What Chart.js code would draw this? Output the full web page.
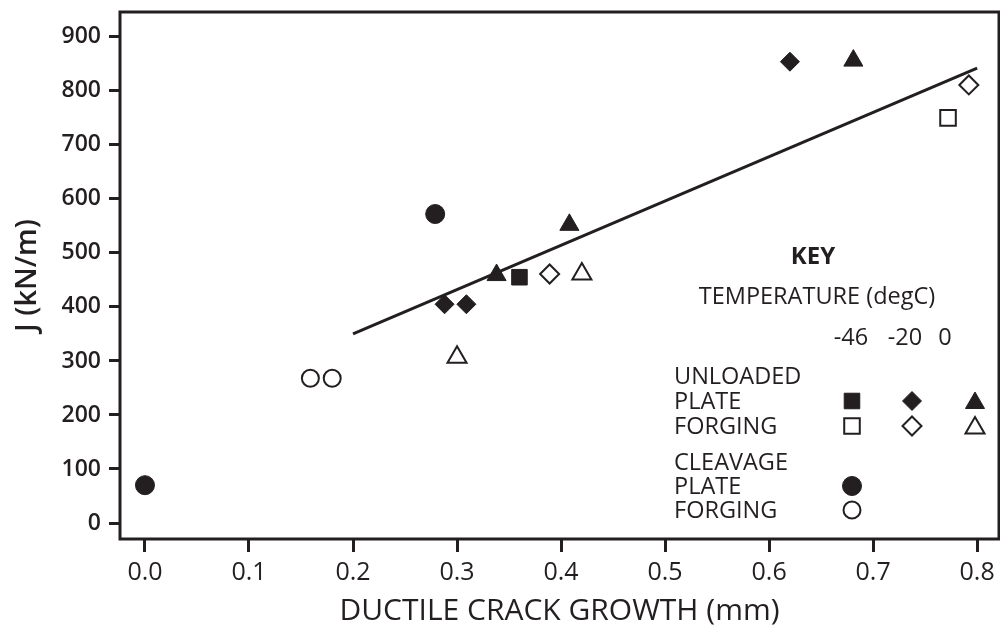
<!DOCTYPE html>
<html>
<head>
<meta charset="utf-8">
<script src="https://cdn.jsdelivr.net/npm/chart.js@4.4.0/dist/chart.umd.min.js"></script>
<style>
  html, body { margin: 0; background: #ffffff; }
  canvas { display: block; }
</style>
</head>
<body>
<canvas id="jChart" width="1000" height="631"></canvas>
<script>
const ink = '#231f20';

// axis ticks
const xTicks = [0, 0.1, 0.2, 0.3, 0.4, 0.5, 0.6, 0.7, 0.8];
const yTicks = [0, 100, 200, 300, 400, 500, 600, 700, 800, 900];

// unloaded, plate (filled) at -46 / -20 / 0 degC
const plateM46 = [{ x: 0.36, y: 455 }];
const plateM20 = [{ x: 0.288, y: 405 }, { x: 0.309, y: 405 }, { x: 0.62, y: 854 }];
const plate0 = [{ x: 0.338, y: 459 }, { x: 0.408, y: 552 }, { x: 0.681, y: 856 }];

// unloaded, forging (open)
const forgingM46 = [{ x: 0.772, y: 750 }];
const forgingM20 = [{ x: 0.389, y: 461 }, { x: 0.792, y: 811 }];
const forging0 = [{ x: 0.30, y: 307 }, { x: 0.42, y: 461 }];

// cleavage
const cleavagePlate = [{ x: 0.0, y: 70 }, { x: 0.279, y: 572 }];
const cleavageForging = [{ x: 0.159, y: 268 }, { x: 0.18, y: 268 }];

// fitted line
const trendX = [0.2, 0.8];
const trendY = [350, 842];

function markerSet(label, data, style, radius, filled) {
    return {
        type: 'scatter',
        label: label,
        data: data,
        pointStyle: style,
        pointRadius: radius,
        pointHoverRadius: radius,
        pointBackgroundColor: filled ? ink : '#ffffff',
        pointBorderColor: ink,
        pointBorderWidth: filled ? 1 : 2
    };
}

// draws a marker the same way Chart.js does, for the key
function keyMarker(ctx, style, x, y, r, filled) {
    ctx.beginPath();
    if (style === 'circle') {
        ctx.arc(x, y, r, 0, Math.PI * 2);
    } else if (style === 'rect') {
        const s = Math.SQRT1_2 * r;
        ctx.rect(x - s, y - s, 2 * s, 2 * s);
    } else if (style === 'rectRot') {
        ctx.moveTo(x - r, y);
        ctx.lineTo(x, y - r);
        ctx.lineTo(x + r, y);
        ctx.lineTo(x, y + r);
        ctx.closePath();
    } else if (style === 'triangle') {
        ctx.moveTo(x, y - r);
        ctx.lineTo(x + r * 0.866, y + r / 2);
        ctx.lineTo(x - r * 0.866, y + r / 2);
        ctx.closePath();
    }
    ctx.fillStyle = filled ? ink : '#ffffff';
    ctx.fill();
    ctx.lineWidth = filled ? 1 : 2;
    ctx.strokeStyle = ink;
    ctx.stroke();
}

const framePlugin = {
    id: 'frame',
    afterDraw(chart) {
        const { ctx, chartArea: a } = chart;
        ctx.save();
        ctx.strokeStyle = ink;
        ctx.lineWidth = 3;
        ctx.strokeRect(a.left, a.top, a.right - a.left, a.bottom - a.top);
        ctx.restore();
    }
};

const keyPlugin = {
    id: 'key',
    afterDraw(chart) {
        const ctx = chart.ctx;
        ctx.save();
        ctx.fillStyle = ink;
        ctx.textBaseline = 'middle';
        ctx.textAlign = 'center';
        ctx.font = 'bold 24px "Open Sans"';
        ctx.fillText('KEY', 813, 257);
        ctx.font = '23.5px "Open Sans"';
        ctx.fillText('TEMPERATURE (degC)', 817, 297);
        ctx.fillText('-46', 851, 338);
        ctx.fillText('-20', 905, 338);
        ctx.fillText('0', 945, 338);
        ctx.textAlign = 'left';
        ctx.fillText('UNLOADED', 674, 377);
        ctx.fillText('PLATE', 674, 402);
        ctx.fillText('FORGING', 674, 427);
        ctx.fillText('CLEAVAGE', 674, 463);
        ctx.fillText('PLATE', 674, 487);
        ctx.fillText('FORGING', 674, 511);

        keyMarker(ctx, 'rect', 852, 401, 11, true);
        keyMarker(ctx, 'rectRot', 912, 401, 9.5, true);
        keyMarker(ctx, 'triangle', 975, 403, 11, true);
        keyMarker(ctx, 'rect', 852, 426, 11, false);
        keyMarker(ctx, 'rectRot', 912, 426, 9.5, false);
        keyMarker(ctx, 'triangle', 975, 428, 11, false);
        keyMarker(ctx, 'circle', 852, 486, 9.5, true);
        keyMarker(ctx, 'circle', 852, 510, 8.5, false);
        ctx.restore();
    }
};

const jChart = new Chart(document.getElementById('jChart').getContext('2d'), {
    data: {
        datasets: [
            {
                type: 'line',
                label: 'fit',
                data: trendX.map((x, i) => ({ x: x, y: trendY[i] })),
                borderColor: ink,
                borderWidth: 3,
                pointRadius: 0,
                fill: false
            },
            markerSet('Plate -46', plateM46, 'rect', 11, true),
            markerSet('Plate -20', plateM20, 'rectRot', 9.5, true),
            markerSet('Plate 0', plate0, 'triangle', 11, true),
            markerSet('Forging -46', forgingM46, 'rect', 11, false),
            markerSet('Forging -20', forgingM20, 'rectRot', 9.5, false),
            markerSet('Forging 0', forging0, 'triangle', 11, false),
            markerSet('Cleavage plate', cleavagePlate, 'circle', 9.5, true),
            markerSet('Cleavage forging', cleavageForging, 'circle', 8.5, false)
        ]
    },
    options: {
        responsive: false,
        animation: false,
        layout: { autoPadding: false, padding: { top: 12, right: 1, left: 0, bottom: 0 } },
        plugins: {
            legend: { display: false },
            tooltip: { enabled: false }
        },
        scales: {
            x: {
                type: 'linear',
                position: 'bottom',
                min: -0.024,
                max: 0.821,
                afterBuildTicks: s => { s.ticks = xTicks.map(v => ({ value: v })); },
                afterFit: s => { s.height = 92; s.paddingLeft = 0; s.paddingRight = 0; },
                ticks: {
                    color: ink,
                    font: { family: 'Open Sans', size: 25 },
                    padding: 6,
                    maxRotation: 0,
                    callback: v => v.toFixed(1)
                },
                grid: {
                    drawOnChartArea: false,
                    drawTicks: true,
                    tickLength: 13,
                    tickWidth: 3,
                    tickColor: ink
                },
                border: { display: false },
                title: {
                    display: true,
                    text: 'DUCTILE CRACK GROWTH (mm)',
                    color: ink,
                    font: { family: 'Open Sans', size: 30 },
                    padding: { top: 0, bottom: 2 }
                }
            },
            y: {
                type: 'linear',
                min: -29.6,
                max: 946,
                afterBuildTicks: s => { s.ticks = yTicks.map(v => ({ value: v })); },
                afterFit: s => { s.width = 120; s.paddingTop = 0; s.paddingBottom = 0; },
                ticks: {
                    color: ink,
                    font: { family: 'Open Sans', size: 23, weight: '600' },
                    padding: 8
                },
                grid: {
                    drawOnChartArea: false,
                    drawTicks: true,
                    tickLength: 11,
                    tickWidth: 3,
                    tickColor: ink
                },
                border: { display: false },
                title: {
                    display: true,
                    text: 'J (kN/m)',
                    color: ink,
                    font: { family: 'Open Sans', size: 29, weight: '600' },
                    padding: { top: 10, bottom: 0 }
                }
            }
        }
    },
    plugins: [framePlugin, keyPlugin]
});
</script>
</body>
</html>
